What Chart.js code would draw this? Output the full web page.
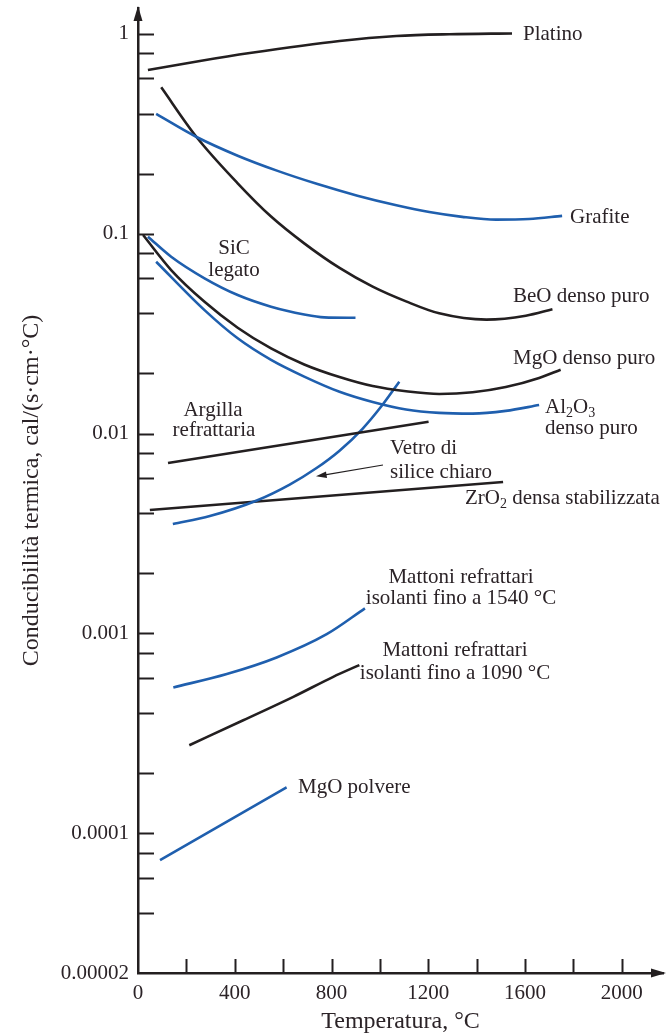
<!DOCTYPE html>
<html><head><meta charset="utf-8">
<script src="https://cdn.jsdelivr.net/npm/chart.js@4.4.1/dist/chart.umd.min.js"></script>
<style>html,body{margin:0;padding:0;background:#fff;}#wrap{width:667px;height:1034px;position:relative}</style>
</head><body><div id="wrap"><canvas id="c" width="667" height="1034"></canvas></div>
<script>
// ---- data (temperature °C, conductivity cal/(s·cm·°C)) ----
const platinoT = [41, 256, 462, 833, 1068, 1287, 1546];
const platinoK = [0.66, 0.733, 0.803, 0.923, 0.977, 0.997, 1.006];
const grafiteT = [75, 240, 412, 577, 742, 907, 1068, 1204, 1340, 1480, 1616, 1753];
const grafiteK = [0.398, 0.306, 0.246, 0.2065, 0.1774, 0.1552, 0.139, 0.1285, 0.1216, 0.1178, 0.1186, 0.123];
const beoT = [96, 241, 412, 550, 687, 833, 970, 1108, 1245, 1440, 1603, 1713];
const beoK = [0.541, 0.306, 0.179, 0.122, 0.0896, 0.0675, 0.0544, 0.0459, 0.040, 0.0372, 0.0389, 0.0419];
const sicT = [41, 137, 275, 412, 550, 687, 770, 899];
const sicK = [0.0967, 0.0768, 0.0599, 0.0494, 0.0432, 0.0395, 0.0382, 0.038];
const mgoDT = [21, 137, 275, 412, 550, 687, 833, 970, 1108, 1245, 1383, 1520, 1658, 1747];
const mgoDK = [0.0986, 0.0659, 0.0457, 0.0339, 0.0267, 0.0222, 0.0192, 0.0173, 0.0163, 0.0158, 0.0161, 0.0171, 0.019, 0.0209];
const al2o3T = [75, 275, 412, 550, 687, 833, 970, 1108, 1245, 1383, 1520, 1658];
const al2o3K = [0.0725, 0.0415, 0.030, 0.0234, 0.0193, 0.0162, 0.0144, 0.0132, 0.0127, 0.0126, 0.013, 0.0139];
const argillaT = [124, 1201];
const argillaK = [0.00713, 0.01147];
const vetroT = [144, 297, 491, 627, 738, 833, 928, 1010, 1080];
const vetroK = [0.00353, 0.00387, 0.00463, 0.00556, 0.00673, 0.00822, 0.01057, 0.0139, 0.0182];
const zro2T = [49, 1509];
const zro2K = [0.00415, 0.00573];
const matt1540T = [146, 367, 573, 780, 938];
const matt1540K = [0.000537, 0.000627, 0.000759, 0.000992, 0.001336];
const matt1090T = [212, 435, 642, 807, 915];
const matt1090K = [0.000276, 0.000368, 0.000482, 0.000607, 0.000695];
const mgoPT = [91, 614];
const mgoPK = [0.0000735, 0.00017];

// ---- axis ticks ----
const xTickValues = [0, 200, 400, 600, 800, 1000, 1200, 1400, 1600, 1800, 2000];
const xLabelValues = [0, 400, 800, 1200, 1600, 2000];
const xLabels = ['0', '400', '800', '1200', '1600', '2000'];
const yLabelValues = [0.00002, 0.0001, 0.001, 0.01, 0.1, 1];
const yLabels = ['0.00002', '0.0001', '0.001', '0.01', '0.1', '1'];
const yMultipliers = [1, 2, 4, 6, 8];
const yExponents = [-5, -4, -3, -2, -1, 0];

const BLACK = '#231f20', BLUE = '#1f5fae', TXT = '#2b2327';
const SERIF = '"Liberation Serif", "Times New Roman", serif';

function pts(T, K) { return T.map((t, i) => ({ x: t, y: K[i] })); }
function ds(T, K, color) {
  return { data: pts(T, K), borderColor: color, borderWidth: 2.6, pointRadius: 0, cubicInterpolationMode: 'monotone', fill: false };
}
const yTickValues = [];
yExponents.forEach(e => yMultipliers.forEach(m => {
  const v = parseFloat((m * Math.pow(10, e)).toPrecision(3));
  if (v >= 0.00002 && v <= 1.0001) yTickValues.push(v);
}));
function near(a, b) { return Math.abs(a - b) / b < 1e-6; }

const labels = [
  { t: [['Platino']], x: 523, y: 34 },
  { t: [['Grafite']], x: 570, y: 217 },
  { t: [['BeO denso puro']], x: 513, y: 296 },
  { t: [['SiC']], x: 234, y: 248, c: 1 },
  { t: [['legato']], x: 234, y: 270, c: 1 },
  { t: [['MgO denso puro']], x: 513, y: 358 },
  { t: [['Al'], ['2', 1], ['O'], ['3', 1]], x: 545, y: 407 },
  { t: [['denso puro']], x: 545, y: 428 },
  { t: [['Argilla']], x: 213, y: 410, c: 1 },
  { t: [['refrattaria']], x: 214, y: 430, c: 1 },
  { t: [['Vetro di']], x: 390, y: 448 },
  { t: [['silice chiaro']], x: 390, y: 472 },
  { t: [['ZrO'], ['2', 1], [' densa stabilizzata']], x: 465, y: 498 },
  { t: [['Mattoni refrattari']], x: 461, y: 577, c: 1 },
  { t: [['isolanti fino a 1540 °C']], x: 461, y: 598, c: 1 },
  { t: [['Mattoni refrattari']], x: 455, y: 650, c: 1 },
  { t: [['isolanti fino a 1090 °C']], x: 455, y: 673, c: 1 },
  { t: [['MgO polvere']], x: 298, y: 787 }
];

const decor = {
  id: 'decor',
  afterDraw(chart) {
    const ctx = chart.ctx, a = chart.chartArea;
    const xs = chart.scales.x, ys = chart.scales.y;
    ctx.save();
    ctx.strokeStyle = BLACK; ctx.lineWidth = 2;
    yTickValues.forEach(v => {
      const p = Math.round(ys.getPixelForValue(v)) + 0.5;
      if (Math.abs(p - a.bottom) < 2) return;
      ctx.beginPath(); ctx.moveTo(a.left, p); ctx.lineTo(a.left + 16, p); ctx.stroke();
    });
    xTickValues.forEach(v => {
      if (v === 0) return;
      const p = Math.round(xs.getPixelForValue(v)) + 0.5;
      ctx.beginPath(); ctx.moveTo(p, a.bottom); ctx.lineTo(p, a.bottom - 14); ctx.stroke();
    });
    ctx.fillStyle = BLACK;
    ctx.beginPath(); ctx.moveTo(a.left, a.top - 2); ctx.lineTo(a.left - 4.5, a.top + 13); ctx.lineTo(a.left + 4.5, a.top + 13); ctx.closePath(); ctx.fill();
    ctx.beginPath(); ctx.moveTo(a.right + 3, a.bottom); ctx.lineTo(a.right - 12, a.bottom - 4.5); ctx.lineTo(a.right - 12, a.bottom + 4.5); ctx.closePath(); ctx.fill();
    ctx.lineWidth = 1.2;
    ctx.beginPath(); ctx.moveTo(383, 465); ctx.lineTo(322, 475.3); ctx.stroke();
    ctx.beginPath(); ctx.moveTo(316, 476.3); ctx.lineTo(326, 471.5); ctx.lineTo(327, 478); ctx.closePath(); ctx.fill();
    ctx.fillStyle = TXT; ctx.textBaseline = 'middle';
    const big = '21px ' + SERIF, small = '14px ' + SERIF;
    labels.forEach(L => {
      let w = 0;
      L.t.forEach(s => { ctx.font = s[1] ? small : big; w += ctx.measureText(s[0]).width; });
      let x = L.c ? L.x - w / 2 : L.x;
      L.t.forEach(s => {
        ctx.font = s[1] ? small : big;
        ctx.fillText(s[0], x, L.y + (s[1] ? 6 : 0));
        x += ctx.measureText(s[0]).width;
      });
    });
    ctx.restore();
  }
};

new Chart(document.getElementById('c'), {
  type: 'line',
  data: {
    datasets: [
      ds(platinoT, platinoK, BLACK),
      ds(grafiteT, grafiteK, BLUE),
      ds(beoT, beoK, BLACK),
      ds(sicT, sicK, BLUE),
      ds(mgoDT, mgoDK, BLACK),
      ds(al2o3T, al2o3K, BLUE),
      ds(argillaT, argillaK, BLACK),
      ds(vetroT, vetroK, BLUE),
      ds(zro2T, zro2K, BLACK),
      ds(matt1540T, matt1540K, BLUE),
      ds(matt1090T, matt1090K, BLACK),
      ds(mgoPT, mgoPK, BLUE)
    ]
  },
  options: {
    responsive: false, animation: false,
    layout: { padding: { top: 8, right: 4, left: 0, bottom: 0 } },
    plugins: { legend: { display: false }, tooltip: { enabled: false } },
    scales: {
      x: {
        type: 'linear', min: 0, max: 2170,
        afterFit(s) { s.height = 61; s.paddingLeft = 0; s.paddingRight = 0; },
        afterBuildTicks(s) { s.ticks = xTickValues.map(v => ({ value: v })); },
        grid: { display: false, drawTicks: false },
        border: { display: true, color: BLACK, width: 2.5 },
        ticks: {
          autoSkip: false, maxRotation: 0, padding: 8, color: TXT,
          font: { family: SERIF, size: 21 },
          callback(v) { const i = xLabelValues.indexOf(v); return i >= 0 ? xLabels[i] : ''; }
        },
        title: { display: true, text: 'Temperatura, °C', color: TXT, font: { family: SERIF, size: 24, lineHeight: 1 }, padding: { top: 0, bottom: 0 } }
      },
      y: {
        type: 'logarithmic', min: 0.00002, max: 1.349,
        afterFit(s) { s.width = 138; s.paddingTop = 0; s.paddingBottom = 0; },
        afterBuildTicks(s) { s.ticks = yTickValues.map(v => ({ value: v })); },
        grid: { display: false, drawTicks: false },
        border: { display: true, color: BLACK, width: 2.5 },
        ticks: {
          autoSkip: false, padding: 9, color: TXT,
          font: { family: SERIF, size: 21 },
          callback(v) { for (let i = 0; i < yLabelValues.length; i++) if (near(v, yLabelValues[i])) return yLabels[i]; return ''; }
        },
        title: { display: true, text: 'Conducibilità termica, cal/(s·cm·°C)', color: TXT, font: { family: SERIF, size: 24, lineHeight: 1 }, padding: { top: 20, bottom: 0 } }
      }
    }
  },
  plugins: [decor]
});
</script></body></html>
